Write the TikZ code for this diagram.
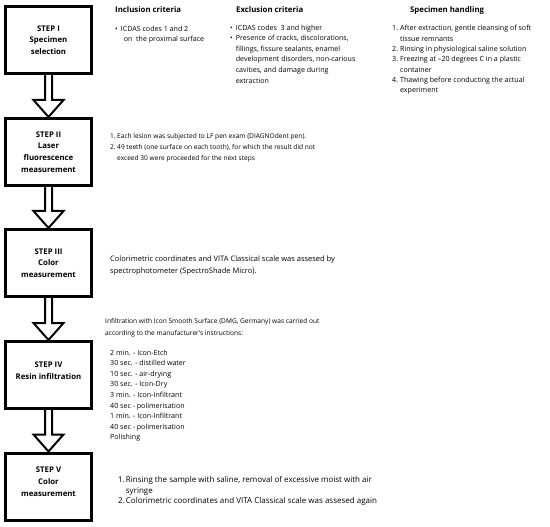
\documentclass[tikz,border=0pt]{standalone}
\usepackage{fontspec}
\setmainfont{Open Sans}
\usetikzlibrary{calc}
\tikzset{
  stepbox/.style={draw, line width=3pt, minimum width=86pt, minimum height=67pt, inner sep=1pt, align=center, font=\fontsize{7.8}{11.7}\selectfont\bfseries},
  arrowline/.style={draw, fill=white, line width=2pt, line join=miter},
  colhead/.style={anchor=west, inner sep=0pt, font=\fontsize{7.8}{9}\selectfont\bfseries},
  txt/.style={anchor=north west, inner sep=0pt, font=\fontsize{#1}{10.6}\selectfont},
  txt/.default=7.1
}
\newcommand{\steparrow}[2]{%
  \draw[arrowline] ($(#1.south)+(-3.5,0)$) -- ($(#2.north)+(-3.5,-17)$) -- ($(#2.north)+(-15,-17)$)
    -- (#2.north) -- ($(#2.north)+(15,-17)$) -- ($(#2.north)+(3.5,-17)$) -- ($(#1.south)+(3.5,0)$);}
\begin{document}
\begin{tikzpicture}[x=1pt,y=-1pt]
\useasboundingbox (0,0) rectangle (550,527);
\node[stepbox] (s1) at (48.5,40) {STEP I\\Specimen\\selection};
\node[stepbox] (s2) at (48.5,152) {STEP II\\Laser\\fluorescence\\measurement};
\node[stepbox] (s3) at (48.5,263) {STEP III\\Color\\measurement};
\node[stepbox, text depth=8pt] (s4) at (48.5,375) {STEP IV\\Resin infiltration};
\node[stepbox, text depth=10pt] (s5) at (48.5,486.5) {STEP V\\Color\\measurement};
\steparrow{s1}{s2}
\steparrow{s2}{s3}
\steparrow{s3}{s4}
\steparrow{s4}{s5}
\node[colhead] (h1) at (115,10) {Inclusion criteria};
\node[colhead] (h2) at (236,10) {Exclusion criteria};
\node[colhead] (h3) at (410,10) {Specimen handling};
\node[txt] (incl) at (115,23.5) {\begin{tabular}{@{}l@{\hspace{3pt}}l@{}}
\textbullet & ICDAS codes 1 and 2\\
 & \hspace{3pt}on\ \ the proximal surface
\end{tabular}};
\node[txt] (excl) at (230,22.5) {\begin{tabular}{@{}l@{\hspace{3pt}}l@{}}
\textbullet & ICDAS codes\ \ 3 and higher\\
\textbullet & Presence of cracks, discolorations,\\
 & fillings, fissure sealants, enamel\\
 & development disorders, non-carious\\
 & cavities, and damage during\\
 & extraction
\end{tabular}};
\node[txt, font=\fontsize{7.1}{10.3}\selectfont] (hand) at (392,23.5) {\begin{tabular}{@{}l@{\hspace{2pt}}l@{}}
1. & After extraction, gentle cleansing of soft\\
 & tissue remnants\\
2. & Rinsing in physiological saline solution\\
3. & Freezing at --20 degrees C in a plastic\\
 & container\\
4. & Thawing before conducting the actual\\
 & experiment
\end{tabular}};
\node[txt, font=\fontsize{6.6}{11}\selectfont] (t2) at (110,130.5) {\begin{tabular}{@{}l@{\hspace{1.5pt}}l@{}}
1. & Each lesion was subjected to LF pen exam (DIAGNOdent pen).\\
2. & 49 teeth (one surface on each tooth), for which the result did not\\
 & exceed 30 were proceeded for the next steps
\end{tabular}};
\node[txt, font=\fontsize{7.5}{12}\selectfont] (t3) at (110,253) {\begin{tabular}{@{}l@{}}
Colorimetric coordinates and VITA Classical scale was assesed by\\
spectrophotometer (SpectroShade Micro).
\end{tabular}};
\node[txt, font=\fontsize{6.6}{12}\selectfont] (t4) at (105,315) {\begin{tabular}{@{}l@{}}
Infiltration with Icon Smooth Surface (DMG, Germany) was carried out\\
according to the manufacturer's instructions:
\end{tabular}};
\node[txt] (t4list) at (110,347.5) {\begin{tabular}{@{}l@{}}
2 min. - Icon-Etch\\
30 sec. - distilled water\\
10 sec. - air-drying\\
30 sec. - Icon-Dry\\
3 min. - Icon-Infiltrant\\
40 sec - polimerisation\\
1 min. - Icon-Infiltrant\\
40 sec - polimerisation\\
Polishing
\end{tabular}};
\node[txt, font=\fontsize{8}{10.2}\selectfont] (t5) at (118,475.5) {\begin{tabular}{@{}l@{\hspace{1pt}}l@{}}
1. & Rinsing the sample with saline, removal of excessive moist with air\\
 & syringe\\
2. & Colorimetric coordinates and VITA Classical scale was assesed again
\end{tabular}};
\end{tikzpicture}
\end{document}
